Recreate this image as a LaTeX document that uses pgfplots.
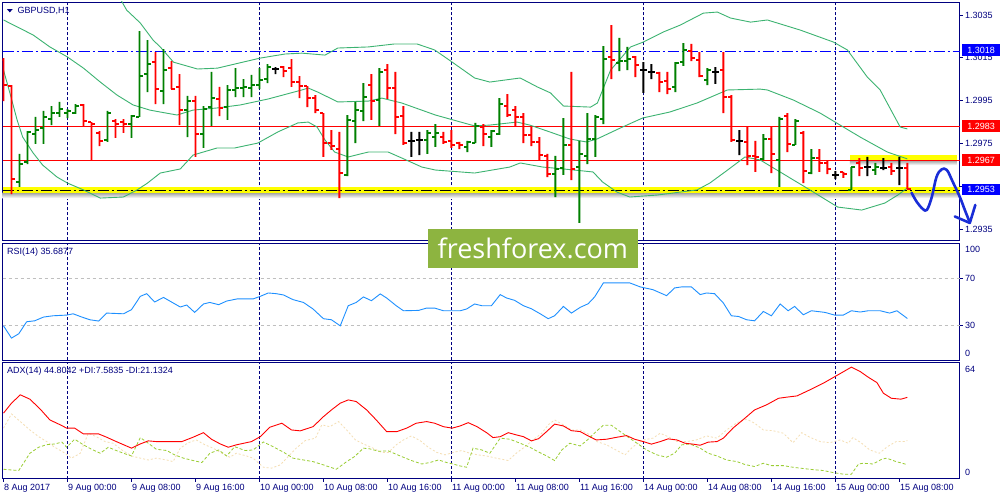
\documentclass[border=0pt]{standalone}
\usepackage{fontspec}
\setmainfont{Liberation Sans}
\newfontfamily\wmfont{Open Sans}
\usepackage{pgfplots}
\usepackage{pgfplotstable}
\pgfplotsset{compat=1.18}

\definecolor{mtnavy}{RGB}{0,0,128}
\definecolor{barup}{RGB}{0,128,0}
\definecolor{bardn}{RGB}{255,0,0}
\definecolor{band}{RGB}{60,179,113}
\definecolor{rsiblue}{RGB}{30,144,255}
\definecolor{diplus}{RGB}{154,205,50}
\definecolor{diminus}{RGB}{245,222,179}
\definecolor{hlblue}{RGB}{0,0,255}
\definecolor{hlyellow}{RGB}{255,255,0}
\definecolor{wmgreen}{RGB}{141,180,64}
\definecolor{pen}{RGB}{25,45,215}

% GBPUSD H1 bars, 8 Aug 16:00 .. 15 Aug 09:00, split by bar colour
\pgfplotstableread{
i o h l c
2 1.29570 1.29701 1.29547 1.29654
3 1.29663 1.29808 1.29654 1.29804
4 1.29794 1.29874 1.29748 1.29813
5 1.29822 1.29902 1.29748 1.29874
6 1.29864 1.29925 1.29836 1.29892
7 1.29892 1.29944 1.29874 1.29911
8 1.29892 1.29911 1.29869 1.29902
9 1.29892 1.29934 1.29888 1.29925
13 1.29766 1.29902 1.29757 1.29892
16 1.29841 1.29883 1.29776 1.29878
17 1.29874 1.30275 1.29874 1.30065
18 1.30074 1.30233 1.29990 1.30121
20 1.29995 1.30191 1.29934 1.30093
23 1.29906 1.29972 1.29780 1.29948
25 1.29794 1.29925 1.29729 1.29911
26 1.29920 1.30084 1.29832 1.29962
28 1.29920 1.30023 1.29860 1.30000
29 1.30000 1.30102 1.29967 1.30009
30 1.30009 1.30051 1.29967 1.30014
31 1.30009 1.30070 1.29967 1.30023
32 1.30023 1.30102 1.30004 1.30046
33 1.30051 1.30121 1.30032 1.30107
43 1.29603 1.29883 1.29598 1.29860
44 1.29855 1.29944 1.29752 1.29906
45 1.29902 1.30032 1.29855 1.29967
47 1.29953 1.30102 1.29832 1.30084
53 1.29766 1.29813 1.29701 1.29799
54 1.29780 1.29841 1.29734 1.29799
58 1.29734 1.29762 1.29710 1.29757
59 1.29752 1.29846 1.29752 1.29832
61 1.29780 1.29813 1.29734 1.29808
62 1.29794 1.29962 1.29790 1.29934
69 1.29607 1.29692 1.29500 1.29631
70 1.29635 1.29869 1.29603 1.29743
72 1.29640 1.29762 1.29379 1.29701
73 1.29692 1.29892 1.29654 1.29771
74 1.29771 1.29883 1.29687 1.29874
75 1.29864 1.30205 1.29841 1.30144
77 1.30126 1.30243 1.30088 1.30135
78 1.30135 1.30201 1.30093 1.30144
84 1.30014 1.30130 1.29990 1.30126
85 1.30130 1.30219 1.30112 1.30187
88 1.30046 1.30102 1.30023 1.30093
95 1.29678 1.29794 1.29673 1.29771
97 1.29673 1.29874 1.29547 1.29864
99 1.29743 1.29864 1.29743 1.29855
101 1.29612 1.29724 1.29607 1.29682
106 1.29533 1.29640 1.29533 1.29640
109 1.29626 1.29659 1.29603 1.29640
}\barsup

\pgfplotstableread{
i o h l c
0 1.30140 1.30149 1.29948 1.30023
1 1.30018 1.30023 1.29514 1.29584
10 1.29930 1.29934 1.29832 1.29855
11 1.29850 1.29850 1.29673 1.29841
12 1.29799 1.29808 1.29738 1.29762
14 1.29855 1.29864 1.29776 1.29841
15 1.29850 1.29864 1.29799 1.29841
19 1.30130 1.30177 1.29934 1.30004
21 1.30102 1.30135 1.30004 1.30004
22 1.30014 1.30074 1.29836 1.29906
24 1.29948 1.29972 1.29687 1.29794
27 1.29958 1.30014 1.29878 1.29916
35 1.30107 1.30112 1.30060 1.30088
36 1.30102 1.30144 1.30014 1.30037
37 1.30037 1.30065 1.29962 1.30018
38 1.30018 1.30018 1.29920 1.29962
39 1.29962 1.29976 1.29892 1.29906
40 1.29892 1.29892 1.29687 1.29752
41 1.29752 1.29813 1.29720 1.29738
42 1.29724 1.29804 1.29495 1.29612
46 1.30023 1.30074 1.29860 1.29948
48 1.30093 1.30121 1.29958 1.30009
49 1.30009 1.30084 1.29794 1.29874
50 1.29878 1.29925 1.29743 1.29752
55 1.29780 1.29804 1.29748 1.29757
56 1.29762 1.29813 1.29729 1.29743
57 1.29752 1.29757 1.29724 1.29743
60 1.29827 1.29841 1.29738 1.29794
63 1.29925 1.29981 1.29874 1.29883
64 1.29906 1.29925 1.29832 1.29874
65 1.29874 1.29892 1.29752 1.29790
66 1.29790 1.29827 1.29738 1.29757
67 1.29757 1.29780 1.29673 1.29696
68 1.29692 1.29701 1.29593 1.29607
71 1.29743 1.30084 1.29579 1.29631
76 1.30154 1.30303 1.30051 1.30140
79 1.30154 1.30158 1.30060 1.30116
82 1.30079 1.30084 1.29990 1.30037
83 1.30042 1.30084 1.29981 1.30004
86 1.30182 1.30215 1.30135 1.30149
87 1.30140 1.30177 1.30060 1.30065
90 1.30093 1.30177 1.29892 1.29967
91 1.29967 1.29976 1.29757 1.29766
93 1.29757 1.29827 1.29649 1.29692
94 1.29692 1.29762 1.29617 1.29687
96 1.29771 1.29827 1.29612 1.29701
98 1.29878 1.29892 1.29710 1.29748
100 1.29799 1.29808 1.29565 1.29621
102 1.29682 1.29724 1.29617 1.29659
103 1.29659 1.29668 1.29607 1.29631
105 1.29617 1.29617 1.29589 1.29607
107 1.29659 1.29682 1.29598 1.29635
111 1.29640 1.29659 1.29603 1.29621
113 1.29635 1.29659 1.29537 1.29537
}\barsdn

\pgfplotstableread{
i o h l c
34 1.30098 1.30107 1.30074 1.30098
51 1.29762 1.29804 1.29687 1.29762
52 1.29766 1.29804 1.29696 1.29766
80 1.30093 1.30130 1.29986 1.30093
81 1.30084 1.30121 1.30051 1.30084
89 1.30084 1.30107 1.30028 1.30084
92 1.29762 1.29813 1.29696 1.29762
104 1.29603 1.29621 1.29584 1.29603
108 1.29640 1.29687 1.29598 1.29640
110 1.29635 1.29682 1.29626 1.29635
112 1.29635 1.29687 1.29556 1.29635
}\barsflat

\pgfplotstableread{
i v
0 29.4
1 18.9
1.9 22.6
2.9 32.9
3.9 33.7
5 36.9
6.2 38.0
7.9 38.6
8.7 39.7
9.8 36.9
10.8 34.6
11.9 33.5
12.9 40.3
15 39.7
16 43.2
17.1 54.6
17.9 56.9
18.9 49.8
20 53.7
21 49.8
22.1 45.5
22.9 47.2
23.9 40.9
25 48.1
25.8 49.4
26.9 47.5
27.9 50.6
29.2 52.4
31.2 52.4
32.1 54.6
33.1 57.5
34.1 56.9
35 55.8
36.2 51.8
37.5 49.4
38.7 43.8
40 35.5
41 34.6
42.1 29.4
43.1 46.6
44.1 49.4
45 54.1
46 50.9
47.1 56.7
47.9 53.2
49.1 46.6
50 42.3
51.9 42.6
52.9 44.6
53.9 44.6
55 42.3
57.1 42.3
57.9 43.8
58.9 48.1
59.8 46.6
61 46.6
62.1 56.1
62.9 53.2
63.9 51.2
65 46.6
66 44.0
67.1 39.7
68.1 35.5
68.9 38.0
70 46.0
71 40.3
72.1 45.2
73.1 48.3
73.9 54.1
75 66.1
76.2 66.1
78.3 66.1
79.6 62.7
81.2 60.3
82.9 55.2
83.9 61.8
84.8 62.7
86 62.7
87.1 56.1
87.9 57.5
88.9 56.9
90 48.9
91 38.0
91.9 37.4
92.9 34.6
93.9 33.7
95 41.7
96 38.0
97.1 48.1
98.1 42.3
98.9 46.0
100 38.9
101 42.3
102.7 40.9
103.9 38.6
105 38.6
106 42.3
107.1 41.2
108.1 42.3
109.6 42.3
110.8 40.3
111.7 42.3
113 35.7
}\rsi

\pgfplotstableread{
i v
0 36.1
1 41.6
2.1 46.2
3.3 43.8
4.6 38.3
5.8 32.4
7.1 29.7
7.9 27.9
8.9 27.9
10 24.7
11.9 24.7
12.9 22.9
13.9 20.9
15 18.8
16 16.9
17.1 19.2
18.1 20.9
19.1 20.5
21.4 20.5
22.3 20.5
23.7 22.9
25 25.4
26 21.8
27.1 19.2
28.1 17.4
29.1 18.7
31 20.5
32.1 23.2
33.3 28.4
34.8 30.6
36 26.9
37.1 26.4
38.7 28.7
40 34.2
41 37.9
42.1 41.6
43.1 43.4
44.1 42.5
45.4 37.9
46.6 32.4
47.9 26.0
49.2 26.0
50.4 27.9
51.6 30.6
52.9 31.5
53.9 30.6
55 28.7
56.1 27.9
57.1 29.1
58.1 30.9
59.2 28.7
60.4 25.4
61.2 22.7
62.1 23.2
63.1 25.4
64.1 24.2
65 23.2
66 20.9
66.9 22.1
67.9 26.0
68.9 30.1
70 29.1
71 26.5
72.1 26.0
73.1 23.6
74.1 21.4
75.4 21.8
76.7 22.9
77.9 23.8
78.9 21.8
80 20.5
81 19.1
82.1 20.5
83.1 22.0
84.2 21.4
85.2 19.6
86.2 19.1
87.1 18.5
88.1 20.2
89.2 20.5
90 22.4
91.2 27.9
92.7 33.4
93.9 37.9
95.4 40.7
96.9 44.3
97.9 44.9
99.2 45.6
100.8 48.9
102.5 52.6
104.1 56.6
106 61.4
107.1 59.0
108.1 55.9
109.2 52.9
110 47.1
111 44.3
112.2 43.8
113 44.8
}\adx

\pgfplotstableread{
i v
0 5.3
1 4.9
1.9 4.6
2.5 8.6
3.3 14.1
4.4 17.4
5.4 18.8
6.4 19.2
7.3 20.2
7.9 17.4
8.9 21.8
10 18.7
11 16.3
12.1 14.1
13.1 17.4
14.1 15.6
15 14.1
16 12.6
17.1 22.7
18.1 19.6
19.1 16.3
20.4 15.6
21.4 13.2
22.5 11.4
23.7 10.1
24.8 9.0
25.8 14.1
26.9 15.9
27.9 12.6
28.9 17.7
30.2 15.6
31.2 15.9
32.5 20.3
33.7 17.7
35 14.7
36.2 11.4
37.5 10.4
38.7 9.5
40 7.7
41.6 5.3
42.9 9.5
43.9 12.3
45 16.9
45.8 16.5
46.9 15.2
48.1 15.4
49.6 12.6
51 10.1
52.3 8.2
53.3 9.0
54.4 10.4
55.4 9.0
56.2 8.2
57.1 7.1
57.9 6.4
58.7 16.9
59.8 15.9
60.8 14.1
62.1 22.4
63.3 21.8
64.6 19.6
65.8 17.4
66.8 15.0
67.9 12.6
68.9 10.1
69.8 15.9
70.8 19.6
72.1 18.1
73.1 21.8
74.2 26.5
75 29.5
76 29.5
77.1 26.0
78.1 22.9
79.2 19.6
80.4 15.9
81.7 13.2
82.9 11.9
83.9 14.1
84.8 18.7
85.8 19.2
87.1 16.9
88.1 14.1
89.2 12.6
90.4 10.4
91.7 9.5
92.7 7.9
93.9 6.8
95 8.6
96 7.3
97.5 7.3
98.7 6.4
100 5.7
101.2 5.1
102.5 4.6
103.7 3.5
105 2.6
106 2.6
106.9 8.2
107.5 8.6
108.7 8.2
109.8 10.8
110.4 11.4
111.6 9.5
112.7 8.2
113 7.6
}\dip

\pgfplotstableread{
i v
0 27.9
1 35.7
2.1 31.5
3.3 26.9
4.4 23.2
5.4 20.5
6.4 17.4
7.7 14.1
8.5 11.4
9.6 14.1
10.6 25.1
11.6 23.2
12.7 20.5
13.7 19.6
14.8 15.9
16 12.6
17.1 11.4
18.1 10.4
19.1 11.4
20.4 10.4
21.2 9.5
22.1 16.9
23.1 19.9
24.1 21.4
25.2 18.7
26.2 16.9
27.3 14.1
28.3 11.9
29.1 14.1
30.4 12.6
31.2 11.4
32.5 6.4
33.5 5.9
34.6 7.7
35.6 12.3
36.6 16.9
37.7 21.0
39 22.4
39.8 29.7
40.8 28.7
41.9 31.5
42.9 26.9
44 21.4
45 19.2
46.2 16.9
47.3 14.5
48.1 14.5
49.1 18.7
50 21.4
51 23.6
52.1 21.0
53.1 17.4
54.2 14.5
55.2 13.2
56.2 14.5
57.3 15.6
58.3 14.1
59.3 13.2
60.4 12.6
61.6 11.4
63.1 10.1
64.1 14.1
65.2 17.7
66.2 21.4
67.3 25.1
68.1 29.7
68.9 32.4
70 29.7
71 26.9
72.1 26.9
73.1 24.7
74.2 20.5
75.4 18.7
76.4 16.3
77.7 13.2
78.7 17.7
80 21.4
81.2 22.4
82.1 25.1
83.1 23.2
84.2 20.5
85.4 20.5
86.6 21.4
87.9 23.6
89.2 22.4
90.4 26.9
91.7 30.9
92.9 32.8
93.9 30.6
95 26.9
96.2 26.5
97.5 25.1
98.7 19.9
99.8 25.4
100.8 22.9
102.1 20.5
103.3 19.9
104.6 21.4
105.6 19.6
106.2 22.7
107.2 19.9
108.3 15.9
109.5 14.1
110.5 17.7
111.6 20.5
112.6 20.5
113 21.1
}\dimi

\pgfplotsset{
  mt/.style={
    scale only axis, width=957.3pt, anchor=north west,
    xmin=-0.1, xmax=119.56,
    axis line style={mtnavy, line width=0.9pt},
    every tick/.style={mtnavy, line width=0.8pt},
    major tick length=3pt, tick align=outside,
    ytick pos=right, yticklabel pos=right,
    yticklabel style={text=mtnavy, inner sep=0pt, xshift=2pt},
    xtick pos=bottom,
    extra x ticks={8,32,56,80,104}, extra x tick labels={},
    extra x tick style={grid=major, major tick length=0pt},
    major grid style={mtnavy, line width=0.8pt, dash pattern=on 3pt off 2pt},
    clip mode=individual,
  },
  % overlay on the price window for the high-low stems (stacked bars)
  stems/.style={scale only axis, width=957.3pt, height=238.5pt, anchor=north west,
    at={(2.7pt,-2pt)}, xmin=-0.1, xmax=119.56, ymin=1.29297, ymax=1.30411,
    hide axis, ybar stacked, bar width=1.9pt},
  oc/.style={-, line width=1.9pt, quiver={u=#1, v=0}},
  dashdot/.style={dash pattern=on 11pt off 3pt on 2pt off 3pt},
}

\begin{document}
\begin{tikzpicture}[x=1pt, y=1pt, font=\fontsize{9}{10}\selectfont]
\fill[white] (0,0) rectangle (1000,-500);

% price window
\begin{axis}[mt, at={(2.7pt,-2pt)}, height=238.5pt,
  ymin=1.29297, ymax=1.30411, xtick=\empty,
  ytick={1.2935,1.2955,1.2975,1.2995,1.3015,1.3035},
  yticklabels={1.2935,,1.2975,1.2995,1.3015,1.3035}]
  \shade[top color=black!35, bottom color=white] (axis cs:-0.1,1.29519) rectangle (axis cs:119.56,1.29495);
  \fill[hlyellow] (axis cs:-0.1,1.29547) rectangle (axis cs:119.56,1.29519);
  \shade[top color=black!35, bottom color=white] (axis cs:105.8,1.29670) rectangle (axis cs:119.2,1.29649);
  \fill[hlyellow] (axis cs:105.8,1.29696) rectangle (axis cs:119.2,1.29670);

  \addplot[hlblue, line width=1.8pt, dashdot] coordinates {(-0.1,1.3018) (119.56,1.3018)};
  \addplot[bardn, line width=1.2pt] coordinates {(-0.1,1.2983) (119.56,1.2983)};
  \addplot[bardn, line width=1.2pt] coordinates {(-0.1,1.2967) (119.56,1.2967)};
  \addplot[black, line width=1.5pt, dashdot] coordinates {(-0.1,1.2953) (119.56,1.2953)};

  % Bollinger bands (20)
  \addplot[band, line width=0.9pt] coordinates {
    (0,1.30561) (3.7,1.30808) (8,1.30743) (12.1,1.30579) (14.2,1.30452) (15.4,1.30373)
    (17.1,1.30313) (18.7,1.30233) (19.6,1.30201) (21.25,1.30130) (24.25,1.30098)
    (26.75,1.30102) (28.9,1.30121) (32.1,1.30149) (35.2,1.30168) (37.3,1.30172)
    (40.2,1.30163) (41.8,1.30196) (45.6,1.30201) (48.9,1.30215) (51.7,1.30215)
    (53.9,1.30187) (56.1,1.30130) (58.9,1.30056) (60.8,1.30037) (64.6,1.30056)
    (66.75,1.30014) (68.4,1.29986) (70,1.29925) (73.4,1.29920) (74.25,1.29939)
    (75.9,1.30093) (78.4,1.30201) (80,1.30224) (82.5,1.30271) (84.6,1.30303)
    (87.5,1.30359) (89.25,1.30364) (90.9,1.30336) (93.4,1.30317) (95.5,1.30327)
    (99.6,1.30280) (103.75,1.30224) (105.5,1.30187) (108,1.30060) (109.6,1.30000)
    (112.1,1.29827) (113,1.29818)};
  \addplot[band, line width=0.9pt] coordinates {
    (0,1.30327) (3.7,1.30257) (5.8,1.30201) (8,1.30154) (10,1.30102) (12.1,1.30037)
    (14.2,1.29976) (16.2,1.29930) (18.3,1.29906) (19.6,1.29897) (21.7,1.29883)
    (23.7,1.29906) (26.7,1.29916) (29.6,1.29930) (33.1,1.29958) (37.3,1.30000)
    (38.1,1.30009) (39.3,1.29990) (41.8,1.29944) (45.6,1.29948) (47.3,1.29962)
    (49.8,1.29939) (54,1.29883) (58.9,1.29832) (60.8,1.29836) (64.2,1.29850)
    (65.8,1.29836) (68.3,1.29804) (70.8,1.29771) (72.9,1.29757) (74.2,1.29771)
    (77.1,1.29822) (79.9,1.29869) (83.3,1.29897) (86.7,1.29939) (90.5,1.30000)
    (94.6,1.30004) (95.5,1.30000) (98.75,1.29953) (102.1,1.29892) (104.6,1.29836)
    (107.1,1.29780) (110.5,1.29710) (113,1.29678)};
  \addplot[band, line width=0.9pt] coordinates {
    (0,1.30093) (0.8,1.29986) (1.7,1.29860) (2.4,1.29780) (3.7,1.29706) (4.9,1.29649)
    (6.7,1.29593) (8,1.29565) (10,1.29533) (12.1,1.29495) (15,1.29500) (16.7,1.29533)
    (18,1.29565) (19.6,1.29612) (22.1,1.29631) (23.7,1.29696) (26.7,1.29729)
    (28.9,1.29729) (31.8,1.29752) (34.3,1.29804) (36.8,1.29846) (38.1,1.29850)
    (39.2,1.29827) (40.2,1.29766) (41.4,1.29710) (43.1,1.29687) (45.6,1.29710)
    (48.1,1.29710) (49.8,1.29682) (52.3,1.29640) (54,1.29626) (58.9,1.29612)
    (63.3,1.29640) (64.6,1.29659) (67.4,1.29640) (70,1.29631) (73.7,1.29617)
    (74.9,1.29570) (76.7,1.29523) (78.3,1.29500) (81.7,1.29509) (86.7,1.29533)
    (88.3,1.29565) (90.2,1.29617) (92.7,1.29687) (94.6,1.29673) (100.2,1.29547)
    (104.3,1.29453) (107.3,1.29439) (110.2,1.29472) (111.8,1.29509) (113,1.29542)};

  % open tick left, close tick right
  \addplot[barup, oc=-0.4] table[x=i, y=o] {\barsup};
  \addplot[barup, oc=0.4] table[x=i, y=c] {\barsup};
  \addplot[bardn, oc=-0.4] table[x=i, y=o] {\barsdn};
  \addplot[bardn, oc=0.4] table[x=i, y=c] {\barsdn};
  \addplot[black, oc=-0.4] table[x=i, y=o] {\barsflat};
  \addplot[black, oc=0.4] table[x=i, y=c] {\barsflat};
\end{axis}

% high-low stems: an invisible bar up to the low, then the range on top
\begin{axis}[stems]
  \addplot[draw=none, fill=none] table[x=i, y=l] {\barsup};
  \addplot[draw=none, fill=barup] table[x=i, y expr=\thisrow{h}-\thisrow{l}] {\barsup};
\end{axis}
\begin{axis}[stems]
  \addplot[draw=none, fill=none] table[x=i, y=l] {\barsdn};
  \addplot[draw=none, fill=bardn] table[x=i, y expr=\thisrow{h}-\thisrow{l}] {\barsdn};
\end{axis}
\begin{axis}[stems]
  \addplot[draw=none, fill=none] table[x=i, y=l] {\barsflat};
  \addplot[draw=none, fill=black] table[x=i, y expr=\thisrow{h}-\thisrow{l}] {\barsflat};
\end{axis}

% RSI window
\begin{axis}[mt, at={(2.7pt,-243.3pt)}, height=117pt, ymin=0, ymax=100,
  xtick=\empty, ytick={30,70}, yticklabels={30,70}]
  \addplot[black!25, line width=0.8pt, dash pattern=on 3pt off 3pt] coordinates {(-0.1,70) (119.56,70)};
  \addplot[black!25, line width=0.8pt, dash pattern=on 3pt off 3pt] coordinates {(-0.1,30) (119.56,30)};
  \addplot[rsiblue, line width=0.9pt] table[x=i, y=v] {\rsi};
\end{axis}

% ADX window
\begin{axis}[mt, at={(2.7pt,-362.3pt)}, height=116.7pt, ymin=0, ymax=64.1,
  ytick=\empty, xtick={0,8,...,112},
  xticklabels={8 Aug 2017, 9 Aug 00:00, 9 Aug 08:00, 9 Aug 16:00, 10 Aug 00:00,
    10 Aug 08:00, 10 Aug 16:00, 11 Aug 00:00, 11 Aug 08:00, 11 Aug 16:00,
    14 Aug 00:00, 14 Aug 08:00, 14 Aug 16:00, 15 Aug 00:00, 15 Aug 08:00},
  xticklabel style={anchor=north west, inner sep=0pt, text=mtnavy, xshift=0.5pt, yshift=-2pt}]
  \addplot[diminus, line width=0.8pt, dash pattern=on 2pt off 2pt] table[x=i, y=v] {\dimi};
  \addplot[diplus, line width=0.8pt, dash pattern=on 3pt off 2pt] table[x=i, y=v] {\dip};
  \addplot[bardn, line width=0.9pt] table[x=i, y=v] {\adx};
\end{axis}

% window captions and scale labels
\fill[mtnavy] (7,-9.2) -- (12.6,-9.2) -- (9.8,-12.4) -- cycle;
\node[anchor=west, inner sep=0pt, text=mtnavy] at (17.5,-11) {GBPUSD,H1};
\node[anchor=west, inner sep=0pt, text=mtnavy] at (7,-252) {RSI(14) 35.6877};
\node[anchor=west, inner sep=0pt, text=mtnavy] at (7,-371.5) {ADX(14) 44.8042 +DI:7.5835 -DI:21.1324};
\node[anchor=west, inner sep=0pt, text=mtnavy] at (965,-249) {100};
\node[anchor=west, inner sep=0pt, text=mtnavy] at (965,-353) {0};
\node[anchor=west, inner sep=0pt, text=mtnavy] at (965,-369) {64};
\node[anchor=west, inner sep=0pt, text=mtnavy] at (965,-472) {0};

% price tags
\node[anchor=west, fill=hlblue, text=white, inner sep=0pt, minimum width=38pt, minimum height=11.5pt] at (962,-50) {1.3018};
\node[anchor=west, fill=bardn, text=white, inner sep=0pt, minimum width=38pt, minimum height=11.5pt] at (962,-126.2) {1.2983};
\node[anchor=west, fill=bardn, text=white, inner sep=0pt, minimum width=38pt, minimum height=11.5pt] at (962,-160) {1.2967};
\node[anchor=west, fill=hlblue, text=white, inner sep=0pt, minimum width=38pt, minimum height=11.5pt] at (962,-189.7) {1.2953};

% hand-drawn forecast
\draw[pen, line width=2.6pt, line cap=round, line join=round] plot[smooth, tension=0.6] coordinates {
  (911.7,-192.7) (917,-202) (923,-209) (927,-210) (931.7,-198) (936.7,-177)
  (941.7,-169.5) (947,-170) (953,-182) (960,-197) (965,-210) (970,-222.5)};
\draw[pen, line width=2.6pt, line cap=round, line join=round] (955,-216.5) -- (970,-223) -- (975.5,-205);

% watermark
\node[fill=wmgreen, text=white, inner sep=0pt, minimum width=210pt, minimum height=39pt,
  font=\wmfont\fontsize{27}{27}\selectfont] at (533,-248.5) {freshforex.com};
\end{tikzpicture}
\end{document}
